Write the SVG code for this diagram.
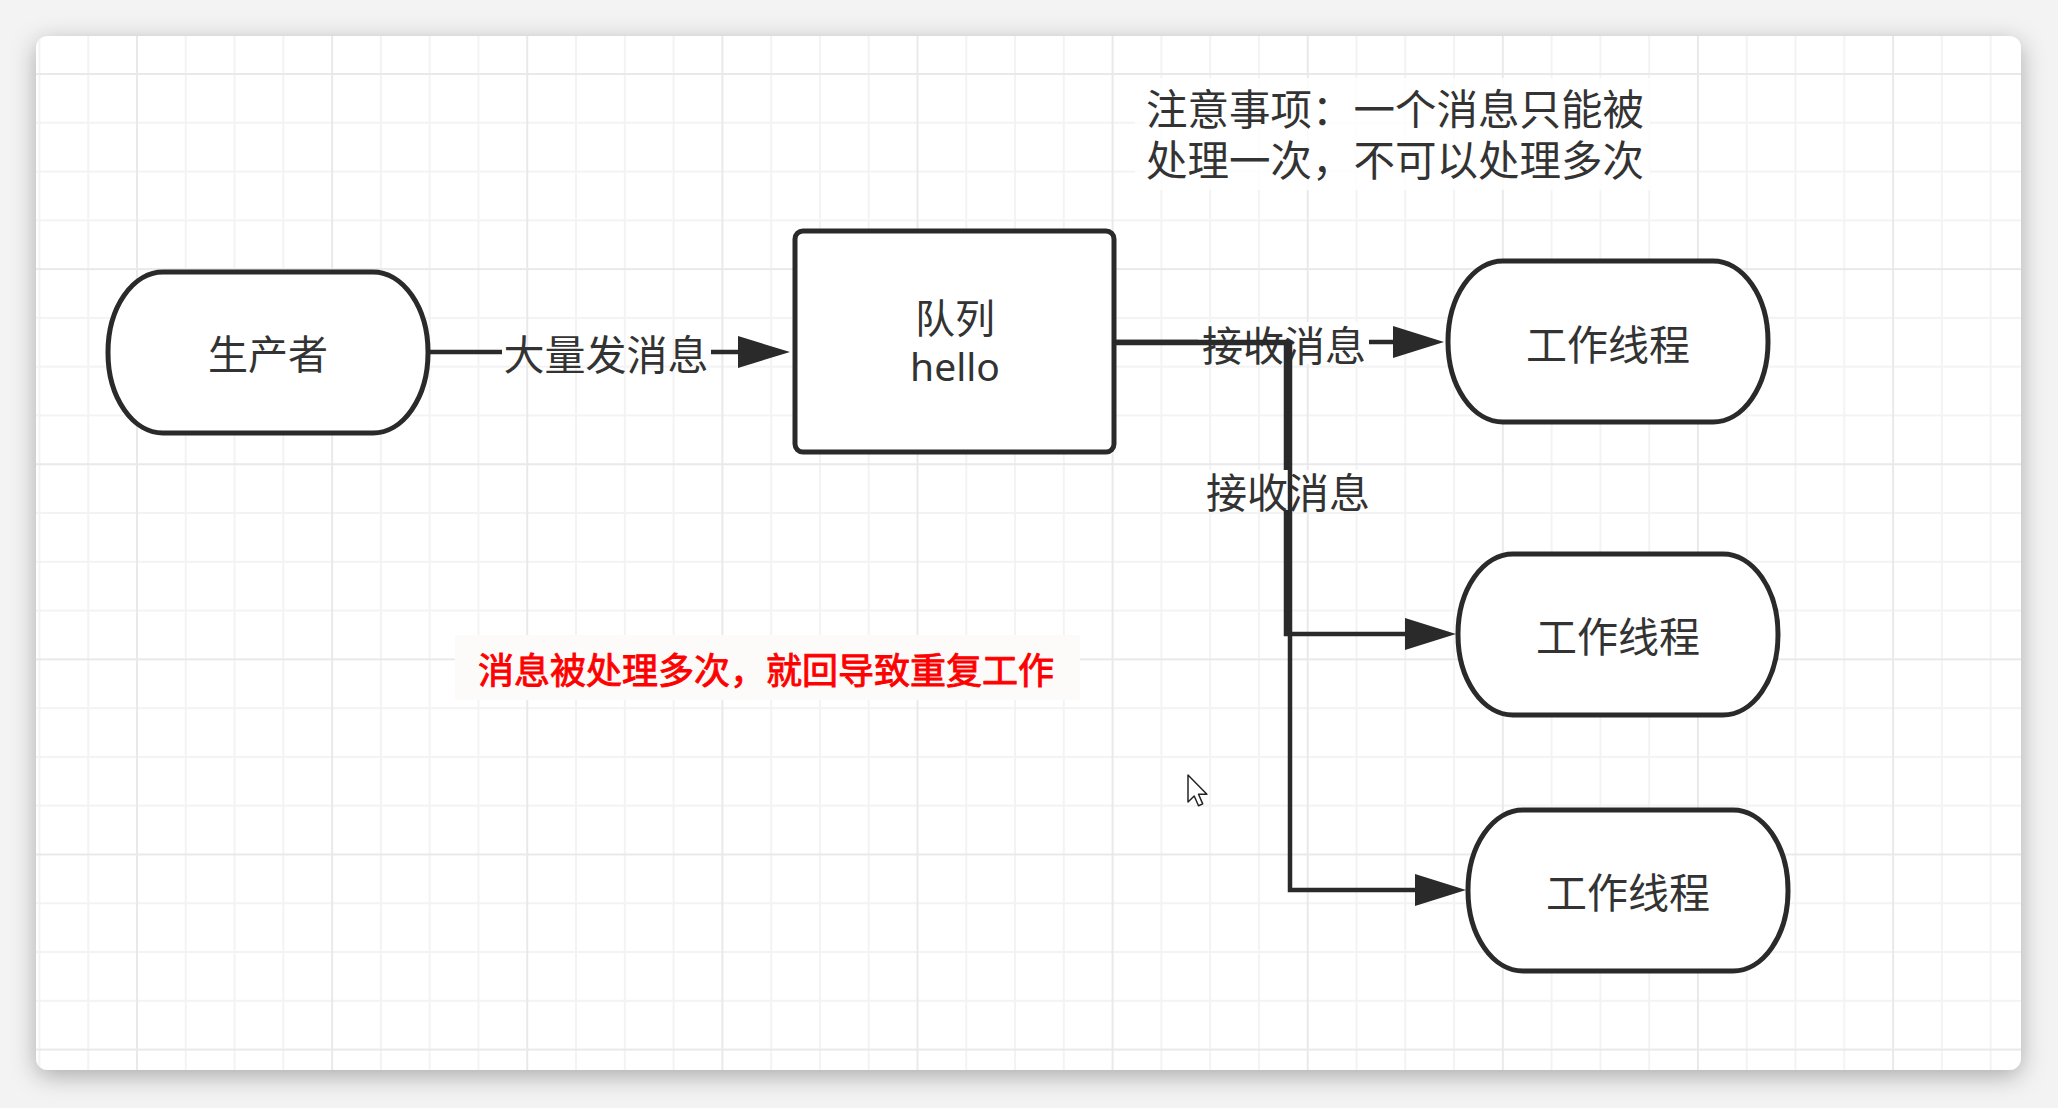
<svg xmlns="http://www.w3.org/2000/svg" width="2058" height="1108" viewBox="0 0 2058 1108">
<style>
.node{fill:#fff;stroke:#2a2a2a;stroke-width:5}
.t{font-family:"Noto Sans CJK SC","Noto Sans",sans-serif;fill:#333;text-anchor:middle;dominant-baseline:central}
.lbl{font-size:41px}
.edge{fill:none;stroke:#2a2a2a;stroke-width:4.5;stroke-linejoin:miter}
.head{fill:#2a2a2a}
.lbg{fill:#fff}
</style>
<defs>
<filter id="sh" x="-5%" y="-5%" width="110%" height="115%">
<feDropShadow dx="0" dy="6" stdDeviation="12" flood-color="#000" flood-opacity="0.3"/>
</filter>
<pattern id="grid" x="136" y="73" width="195.12" height="195.12" patternUnits="userSpaceOnUse">
<path d="M49.78 0V195.12M98.56 0V195.12M147.34 0V195.12M0 49.78H195.12M0 98.56H195.12M0 147.34H195.12" stroke="#f3f3f3" stroke-width="2" fill="none"/>
<path d="M1 0V195.12M0 1H195.12" stroke="#e9e9e9" stroke-width="2" fill="none"/>
</pattern>
</defs>
<rect x="0" y="0" width="2058" height="1108" fill="#f3f3f3"/>
<rect x="36" y="36" width="1985" height="1034" rx="12" fill="#fff" filter="url(#sh)"/>
<rect x="36" y="36" width="1985" height="1034" rx="12" fill="url(#grid)"/>

<g id="note">
<rect x="1135" y="78" width="515" height="112" fill="#fff" opacity="0.8"/>
<text class="t" x="1146" y="107" style="text-anchor:start;font-size:41.5px">注意事项：一个消息只能被</text>
<text class="t" x="1146" y="158" style="text-anchor:start;font-size:41.5px">处理一次，不可以处理多次</text>
</g>

<g id="warning">
<rect x="455" y="635" width="625" height="65" fill="#fcfbfa"/>
<text class="t" x="766" y="668" style="font-size:36px;fill:#ff0000;stroke:#ff0000;stroke-width:0.9">消息被处理多次，就回导致重复工作</text>
</g>

<g id="connectors">
<path class="edge" d="M430 352H502M711 352H742"/>
<text class="t lbl" x="606" y="352">大量发消息</text>
<polygon class="head" points="738,336 790,352 738,368"/>

<path class="edge" d="M1115 342H1398"/>
<rect class="lbg" x="1198" y="322" width="171" height="42"/>
<text class="t lbl" x="1284" y="343">接收消息</text>
<polygon class="head" points="1393,326 1444,342 1393,358"/>

<path class="edge" d="M1115 342H1286V634H1410"/>
<polygon class="head" points="1405,618 1456,634 1405,650"/>
<rect class="lbg" x="1204" y="470" width="168" height="40"/>
<text class="t lbl" x="1288" y="490">接收消息</text>
<path class="edge" d="M1115 343H1290V890H1420"/>
<polygon class="head" points="1415,874 1466,890 1415,906"/>
</g>

<g id="producer">
<rect class="node" x="108" y="272" width="320" height="161" rx="55" ry="80"/>
<text class="t" x="268" y="352" style="font-size:40px">生产者</text>
</g>

<g id="queue">
<rect class="node" x="795" y="231" width="319" height="221" rx="8"/>
<text class="t" x="955" y="316" style="font-size:40px">队列</text>
<text x="955" y="381" style="font-family:'Noto Sans',sans-serif;font-size:39px;fill:#333;text-anchor:middle">hello</text>
</g>

<g id="worker1">
<rect class="node" x="1448" y="261" width="320" height="161" rx="55" ry="80"/>
<text class="t lbl" x="1608" y="342">工作线程</text>
</g>

<g id="worker2">
<rect class="node" x="1458" y="554" width="320" height="161" rx="55" ry="80"/>
<text class="t lbl" x="1618" y="634">工作线程</text>
</g>

<g id="worker3">
<rect class="node" x="1468" y="810" width="320" height="161" rx="55" ry="80"/>
<text class="t lbl" x="1628" y="890">工作线程</text>
</g>

<g id="cursor" transform="translate(1188 775) scale(1.35)">
<path d="M0 0V20L4.6 15.6L7.8 22.8L10.9 21.4L7.8 14.3H14Z" fill="#fff" stroke="#222" stroke-width="1.1" stroke-linejoin="round"/>
</g>
</svg>
